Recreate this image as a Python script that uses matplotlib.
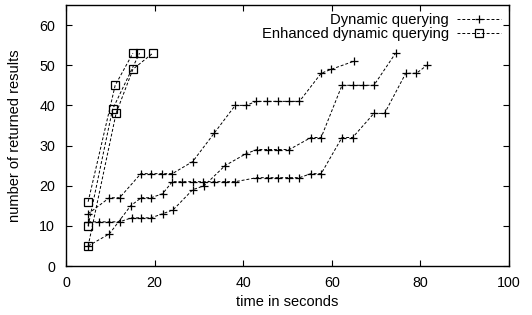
import matplotlib
matplotlib.use("Agg")
import matplotlib.pyplot as plt

plt.rcParams['font.family'] = ['Liberation Sans', 'DejaVu Sans']

# Dynamic querying (three runs)
dyn_a_x = [5, 9.8, 12.1, 16.9, 19.2, 21.6, 24, 28.6, 33.4, 38.2, 40.6, 43, 45.4, 47.9, 50.4, 52.7, 57.6, 59.9, 65]
dyn_a_y = [13, 17, 17, 23, 23, 23, 23, 26, 33, 40, 40, 41, 41, 41, 41, 41, 48, 49, 51]

dyn_b_x = [5, 7.5, 9.8, 12.1, 14.8, 17, 19.2, 21.8, 24.2, 28.6, 31.2, 35.9, 40.7, 43.1, 45.5, 47.9, 50.4,
           55.3, 57.6, 62.3, 64.7, 67.1, 69.5, 74.4]
dyn_b_y = [11, 11, 11, 11, 12, 12, 12, 13, 14, 19, 20, 25, 28, 29, 29, 29, 29, 32, 32, 45, 45, 45, 45, 53]

dyn_c_x = [5, 9.8, 14.6, 17, 19.2, 21.8, 24, 26.2, 28.6, 31, 33.4, 35.8, 38.2, 43.1, 45.5, 47.9, 50.4, 52.7,
           55.3, 57.6, 62.3, 64.7, 69.5, 71.9, 76.7, 79.1, 81.5]
dyn_c_y = [5, 8, 15, 17, 17, 18, 21, 21, 21, 21, 21, 21, 21, 22, 22, 22, 22, 22, 23, 23, 32, 32, 38, 38,
           48, 48, 50]

# Enhanced dynamic querying (three runs)
enh_a_x = [5, 11.1, 15.1]
enh_a_y = [16, 45, 53]
enh_b_x = [5, 10.5, 16.6]
enh_b_y = [10, 39, 53]
enh_c_x = [5, 11.3, 15.1, 19.6]
enh_c_y = [5, 38, 49, 53]

x_ticks = [0, 20, 40, 60, 80, 100]
y_ticks = [0, 10, 20, 30, 40, 50, 60]

fig = plt.figure(figsize=(5.32, 3.15), dpi=100)
ax = fig.add_axes([66 / 532, 1 - 266 / 315, (509 - 66) / 532, (266 - 5) / 315])

ls = (0, (3, 2))
lw = 0.7
dyn_style = dict(color='black', linestyle=ls, linewidth=lw, marker='+', markersize=6,
                 markeredgewidth=0.9)
enh_style = dict(color='black', linestyle=ls, linewidth=lw, marker='s', markersize=5.5,
                 markerfacecolor='none', markeredgewidth=0.9)

ax.plot(dyn_a_x, dyn_a_y, label='Dynamic querying', **dyn_style)
ax.plot(dyn_b_x, dyn_b_y, **dyn_style)
ax.plot(dyn_c_x, dyn_c_y, **dyn_style)
ax.plot(enh_a_x, enh_a_y, label='Enhanced dynamic querying', **enh_style)
ax.plot(enh_b_x, enh_b_y, **enh_style)
ax.plot(enh_c_x, enh_c_y, **enh_style)

ax.set_xlim(0, 100)
ax.set_ylim(0, 65)
ax.set_xticks(x_ticks)
ax.set_yticks(y_ticks)
ax.tick_params(direction='in', length=4, width=0.8, top=True, right=True,
               labelsize=10.3, colors='black')
ax.tick_params(axis='x', pad=7)
ax.tick_params(axis='y', pad=8)
for s in ax.spines.values():
    s.set_linewidth(1.0)

ax.set_xlabel('time in seconds', fontsize=10.5, labelpad=4)
ax.set_ylabel('number of returned results', fontsize=10.5, labelpad=12)

leg = ax.legend(loc='upper right', frameon=False, markerfirst=False, fontsize=10.6,
                handlelength=3.0, handletextpad=0.55, labelspacing=0.0,
                borderaxespad=0.3, borderpad=0.25, numpoints=1)

fig.savefig('out.png', dpi=100)
